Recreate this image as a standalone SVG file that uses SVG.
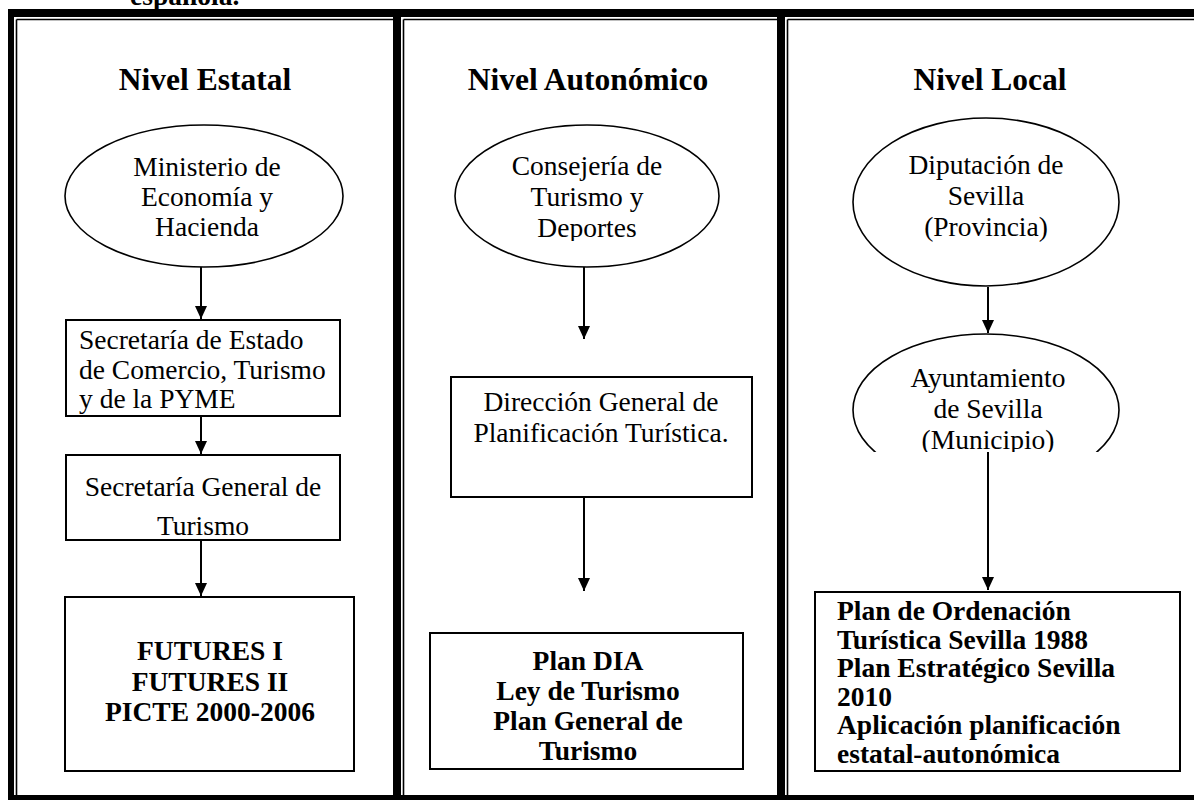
<svg xmlns="http://www.w3.org/2000/svg" width="1194" height="800" viewBox="0 0 1194 800">
<style>
.bg{fill:#fff}
.frame{fill:#000}
.thin{stroke:#000;stroke-width:1.6;fill:none}
.shape{fill:#fff;stroke:#000;stroke-width:2}
.ell{fill:#fff;stroke:#000;stroke-width:1.6}
.t{font-family:"Liberation Serif","Times New Roman",serif;font-size:27.5px;fill:#000}
.b{font-family:"Liberation Serif","Times New Roman",serif;font-size:27.5px;font-weight:bold;fill:#000}
.h{font-family:"Liberation Serif","Times New Roman",serif;font-size:31.5px;font-weight:bold;fill:#000}
.c{text-anchor:middle}
.conn line{stroke:#000;stroke-width:2;marker-end:url(#arr)}
</style>
<defs>
<marker id="arr" markerUnits="userSpaceOnUse" markerWidth="13" markerHeight="12" refX="13" refY="6" orient="auto" viewBox="0 0 13 12">
<path d="M0,0 L13,6 L0,12 z" fill="#000"/>
</marker>
<clipPath id="clipDep"><rect x="440" y="100" width="300" height="141"/></clipPath>
<clipPath id="clipMun"><rect x="840" y="320" width="300" height="132"/></clipPath>
</defs>
<rect class="bg" x="0" y="0" width="1194" height="800"/>

<text class="b" x="130" y="5">española.</text>

<g id="frame">
<rect class="frame" x="8" y="9" width="1186" height="8"/>
<rect class="frame" x="8" y="795" width="1186" height="5"/>
<rect class="frame" x="8" y="9" width="6" height="791"/>
<rect class="frame" x="393" y="9" width="8" height="791"/>
<rect class="frame" x="777" y="9" width="8" height="791"/>
<line class="thin" x1="16.5" y1="19.5" x2="393" y2="19.5"/>
<line class="thin" x1="403.5" y1="19.5" x2="777" y2="19.5"/>
<line class="thin" x1="787.5" y1="19.5" x2="1194" y2="19.5"/>
<line class="thin" x1="16.5" y1="19.5" x2="16.5" y2="795"/>
<line class="thin" x1="403.5" y1="19.5" x2="403.5" y2="795"/>
<line class="thin" x1="787.5" y1="19.5" x2="787.5" y2="795"/>
</g>

<g id="headings">
<text class="h c" x="205" y="90">Nivel Estatal</text>
<text class="h c" x="588" y="90">Nivel Autonómico</text>
<text class="h c" x="990" y="90">Nivel Local</text>
</g>

<g class="conn" id="connectors">
<line x1="201" y1="267" x2="201" y2="319"/>
<line x1="201" y1="416" x2="201" y2="454"/>
<line x1="201" y1="540" x2="201" y2="596"/>
<line x1="584" y1="267" x2="584" y2="339"/>
<line x1="584" y1="497" x2="584" y2="591"/>
<line x1="988" y1="287" x2="988" y2="333"/>
<line x1="988" y1="452" x2="988" y2="590"/>
</g>

<g id="ministerio">
<ellipse class="ell" cx="204" cy="196" rx="139" ry="71"/>
<text class="t c" x="207" y="176">Ministerio de</text>
<text class="t c" x="207" y="206">Economía y</text>
<text class="t c" x="207" y="236">Hacienda</text>
</g>

<g id="secretaria-estado">
<rect class="shape" x="66" y="320" width="274" height="96"/>
<text class="t" x="79" y="349">Secretaría de Estado</text>
<text class="t" x="79" y="379">de Comercio, Turismo</text>
<text class="t" x="79" y="408">y de la PYME</text>
</g>

<g id="secretaria-general">
<rect class="shape" x="66" y="455" width="274" height="85"/>
<text class="t c" x="203" y="496">Secretaría General de</text>
<text class="t c" x="203" y="535">Turismo</text>
</g>

<g id="futures">
<rect class="shape" x="65" y="597" width="289" height="174"/>
<text class="b c" x="210" y="660">FUTURES I</text>
<text class="b c" x="210" y="691">FUTURES II</text>
<text class="b c" x="210" y="721">PICTE 2000-2006</text>
</g>

<g id="consejeria">
<ellipse class="ell" cx="587" cy="196" rx="132" ry="71"/>
<g clip-path="url(#clipDep)">
<text class="t c" x="587" y="175">Consejería de</text>
<text class="t c" x="587" y="206">Turismo y</text>
<text class="t c" x="587" y="237">Deportes</text>
</g>
</g>

<g id="direccion">
<rect class="shape" x="451" y="377" width="301" height="120"/>
<text class="t c" x="601" y="411">Dirección General de</text>
<text class="t c" x="601" y="442">Planificación Turística.</text>
</g>

<g id="plan-dia">
<rect class="shape" x="430" y="633" width="313" height="136"/>
<text class="b c" x="588" y="670">Plan DIA</text>
<text class="b c" x="588" y="700">Ley de Turismo</text>
<text class="b c" x="588" y="730">Plan General de</text>
<text class="b c" x="588" y="760">Turismo</text>
</g>

<g id="diputacion">
<ellipse class="ell" cx="986" cy="202" rx="133" ry="84"/>
<text class="t c" x="986" y="174">Diputación de</text>
<text class="t c" x="986" y="205">Sevilla</text>
<text class="t c" x="986" y="236">(Provincia)</text>
</g>

<g id="ayuntamiento" clip-path="url(#clipMun)">
<ellipse class="ell" cx="986" cy="410" rx="133" ry="76"/>
<text class="t c" x="988" y="387">Ayuntamiento</text>
<text class="t c" x="988" y="418">de Sevilla</text>
<text class="t c" x="988" y="449">(Municipio)</text>
</g>

<g id="plan-local">
<rect class="shape" x="815" y="592" width="365" height="179"/>
<text class="b" x="837" y="620">Plan de Ordenación</text>
<text class="b" x="837" y="649">Turística Sevilla 1988</text>
<text class="b" x="837" y="677">Plan Estratégico Sevilla</text>
<text class="b" x="837" y="706">2010</text>
<text class="b" x="837" y="734">Aplicación planificación</text>
<text class="b" x="837" y="763">estatal-autonómica</text>
</g>
</svg>
